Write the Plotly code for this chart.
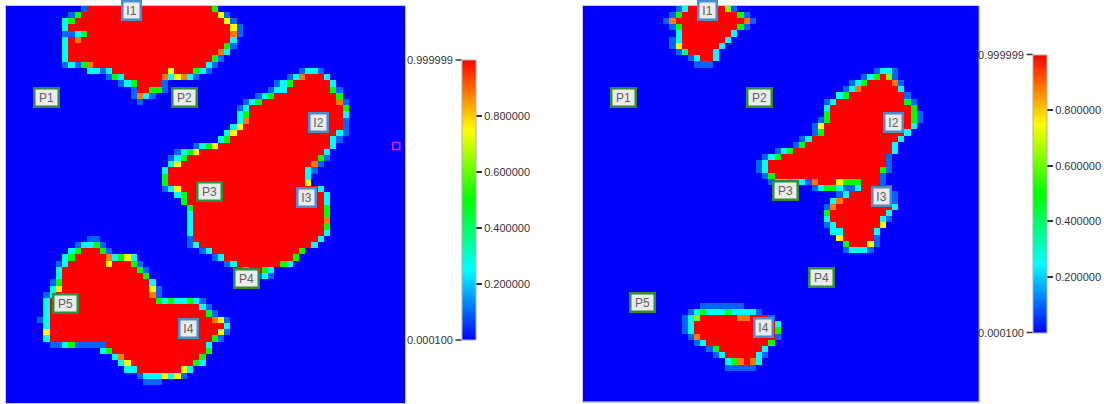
import plotly.graph_objects as go

W, H = 1104, 404
N = 64  # grid cells per side

# value represented by each cell code
CELL_VALUES = {'.': 0.0001, 'b': 0.1, 'c': 0.25, 't': 0.38, 'g': 0.5,
               'l': 0.62, 'y': 0.75, 'o': 0.88, '#': 0.999999}

# run-length encoded rows (count + code), unlisted cells are '.'
LEFT_ROWS = {
    0: "12.b20#g", 1: "10.bg22#yb", 2: "9.cg24#yb", 3: "9.c26#yb",
    4: "9.bbcg23#ob", 5: "9.c#o24#c", 6: "9.c25#gb", 7: "9.c24#oc",
    8: "9.c23#gb", 9: "9.bcbgo18#cb", 10: "13.ccbc9#y3#gcb14.bccb",
    11: "16.bgc6#ocyocb14.bco3#c", 12: "18.bcg4#b17.bcg6#c",
    13: "20.b2#ggb16.bcc7#gb", 14: "20.bocb16.bcg10#g", 15: "21.b16.bcg12#ob",
    16: "37.bc15#g", 17: "37.cg15#c", 18: "37.co15#b", 19: "36.cy16#b",
    20: "35.cy16#cb", 21: "34.cg16#cb", 22: "30.bcgy18#c", 23: "27.bcgy20#c",
    24: "26.bcg21#gb", 25: "26.cy21#ob", 26: "25.c22#cb", 27: "25.g22#c",
    28: "25.g22#y", 29: "25.bcy22#c", 30: "27.cg22#c", 31: "28.g22#c",
    32: "29.g21#g", 33: "29.c21#g", 34: "29.c21#o", 35: "29.c21#g",
    36: "29.c21#c", 37: "13.bb14.b20#c", 38: "11.bccgb13.bc18#c",
    39: "10.cg3#gb14.bc14#g", 40: "9.cg5#ocgyc12.bc11#g",
    41: "8.bc6#y3#gb13.bc7#gc", 42: "8.c12#gb14.bg2#gc", 43: "8.c13#g17.bcb",
    44: "7.bg14#c", 45: "7.cy14#yb", 46: "6.bc15#ob", 47: "6.c17#gcgccgcb",
    48: "6.c24#cb", 49: "6.c25#gb", 50: "5.bc26#oyb", 51: "6.c28#c",
    52: "6.y27#yb", 53: "6.c26#gb", 54: "7.bbcg5b16#c", 55: "15.cg15#g",
    56: "17.co12#g", 57: "18.cy10#gc", 58: "19.cc7#yc", 59: "21.bcccycyb",
    60: "22.bbb",
}

RIGHT_ROWS = {
    0: "15.bc6#lb", 1: "14.bg9#gb", 2: "13.bo11#ob", 3: "14.bg9#gb",
    4: "15.c8#c", 5: "14.bc7#c", 6: "14.by6#c", 7: "15.bt4#c",
    8: "17.bc2#c", 9: "18.bbb", 10: "47.bccb", 11: "45.bcg#lb",
    12: "43.bcg4#ob", 13: "42.bco6#c", 14: "41.cg9#b", 15: "39.bc11#gb",
    16: "39.c13#g", 17: "39.g13#gb", 18: "38.bg13#gb", 19: "37.by14#c",
    20: "37.bg13#c", 21: "35.bc14#c", 22: "34.bg14#c", 23: "31.bcg16#c",
    24: "29.bcg17#b", 25: "28.bc19#b", 26: "28.bc18#gb", 27: "29.bg17#b",
    28: "30.bccoccbo3#yggg3#b", 29: "37.bcggcbbc4#b", 30: "41.bc7#b",
    31: "40.co8#b", 32: "39.bo9#c", 33: "39.g9#c", 34: "39.c8#cb",
    35: "39.bc7#y", 36: "40.cc5#c", 37: "41.y5#b", 38: "42.g3#yb",
    39: "42.bcccb",
    48: "19.bbbbbbb", 49: "17.bcgcccgccccb", 50: "16.bcl6#oo3#b",
    51: "16.bc13#c", 52: "16.bc13#g", 53: "17.bo12#b", 54: "18.bc10#g",
    55: "20.bg7#c", 56: "21.bc5#cb", 57: "23.cgo#oc", 58: "23.bbbbb",
}

WELL_NAMES = ["I1", "P1", "P2", "I2", "P3", "I3", "P4", "P5", "I4"]
WELL_COL = [19.7, 6.05, 28.1, 49.65, 32.2, 47.75, 38.1, 9.1, 28.75]
WELL_ROW = [0.35, 14.3, 14.3, 18.35, 29.4, 30.35, 43.35, 47.45, 51.45]

PROBE_COL = [62.1]
PROBE_ROW = [22.1]

ZMIN, ZMAX = 0.0001, 0.999999
CB_TICKS = [0.2, 0.4, 0.6, 0.8]
CB_TICKTEXT = ["0.200000", "0.400000", "0.600000", "0.800000"]
CB_END_TEXT = ["0.999999", "0.000100"]

COLORSCALE = [[0.0, "rgb(0,0,255)"], [0.25, "rgb(0,255,255)"],
              [0.5, "rgb(0,255,0)"], [0.75, "rgb(255,255,0)"],
              [1.0, "rgb(255,0,0)"]]

# panel layout in pixels
PANELS = [
    dict(x0=6.0, x1=405.0, y0=5.7, y1=403.3, cbx=461.5, cby=200.0, cblen=280),
    dict(x0=582.7, x1=979.0, y0=5.7, y1=401.7, cbx=1032.7, cby=193.5, cblen=278),
]
CB_THICK = 14
FONT = "Liberation Sans"


def decode(rows):
    grid = []
    for r in range(N):
        s = rows.get(r, "")
        cells, num = [], ""
        for ch in s:
            if ch.isdigit():
                num += ch
            else:
                cells.extend([ch] * (int(num) if num else 1))
                num = ""
        cells += ["."] * (N - len(cells))
        grid.append([CELL_VALUES[c] for c in cells[:N]])
    return grid


fig = go.Figure()
annotations = []
shapes = []
layout_axes = {}

for i, (rows, p) in enumerate(zip([LEFT_ROWS, RIGHT_ROWS], PANELS)):
    sfx = "" if i == 0 else str(i + 1)
    xa, ya = "x" + sfx, "y" + sfx
    cb_center = 1 - p["cby"] / H
    fig.add_trace(go.Heatmap(
        z=decode(rows), x=list(range(N)), y=list(range(N)),
        xaxis=xa, yaxis=ya, zmin=ZMIN, zmax=ZMAX, colorscale=COLORSCALE,
        zsmooth=False, hoverinfo="skip",
        colorbar=dict(
            x=p["cbx"] / W, xanchor="left", xpad=0, ypad=0,
            y=cb_center, yanchor="middle",
            lenmode="pixels", len=p["cblen"],
            thicknessmode="pixels", thickness=CB_THICK,
            tickvals=CB_TICKS, ticktext=CB_TICKTEXT,
            ticks="outside", ticklen=6, tickwidth=1.5, tickcolor="#333",
            tickfont=dict(family=FONT, size=11, color="#333"),
            outlinewidth=1, outlinecolor="#b0b0b0",
        ),
    ))
    if i == 0:
        fig.add_trace(go.Scatter(
            x=PROBE_COL, y=PROBE_ROW, xaxis=xa, yaxis=ya, mode="markers",
            marker=dict(symbol="square-open", size=7, color="#e020e0",
                        line=dict(width=1.5, color="#e020e0")),
            hoverinfo="skip", showlegend=False))

    layout_axes["xaxis" + sfx] = dict(
        domain=[p["x0"] / W, p["x1"] / W], range=[-0.5, N - 0.5],
        showticklabels=False, ticks="", showgrid=False, zeroline=False,
        showline=True, linecolor="#c9c9e0", linewidth=1, mirror=True,
        anchor=ya)
    layout_axes["yaxis" + sfx] = dict(
        domain=[1 - p["y1"] / H, 1 - p["y0"] / H], range=[N - 0.5, -0.5],
        showticklabels=False, ticks="", showgrid=False, zeroline=False,
        showline=True, linecolor="#c9c9e0", linewidth=1, mirror=True,
        anchor=xa)

    for name, c, r in zip(WELL_NAMES, WELL_COL, WELL_ROW):
        is_p = name.startswith("P")
        annotations.append(dict(
            x=c, y=r, xref=xa, yref=ya, text=name, showarrow=False,
            font=dict(family=FONT, size=12, color="#5f5f5f"),
            bgcolor="#ebebeb",
            bordercolor="#2f8c37" if is_p else "#4b8ccf",
            borderwidth=2.5, borderpad=1,
            width=20 if is_p else 14, height=14,
        ))

    # end labels of the colour bar with their tick marks (left side)
    half = p["cblen"] / 2 / H
    for txt, yy in zip(CB_END_TEXT, [cb_center + half, cb_center - half]):
        annotations.append(dict(
            x=p["cbx"] / W, y=yy, xref="paper", yref="paper", text=txt,
            showarrow=False, xanchor="right", yanchor="middle", xshift=-7,
            font=dict(family=FONT, size=11, color="#333")))
        shapes.append(dict(
            type="line", xref="paper", yref="paper",
            x0=(p["cbx"] - 6) / W, x1=p["cbx"] / W, y0=yy, y1=yy,
            line=dict(color="#333", width=1.5)))

fig.update_layout(
    width=W, height=H, margin=dict(l=0, r=0, t=0, b=0, autoexpand=False),
    paper_bgcolor="white", plot_bgcolor="white", showlegend=False,
    annotations=annotations, shapes=shapes, **layout_axes)

fig.write_html(
    "out.html",
    config={"displayModeBar": False},
    post_script="document.body.style.margin='0px';"
                "document.body.style.overflow='hidden';")
